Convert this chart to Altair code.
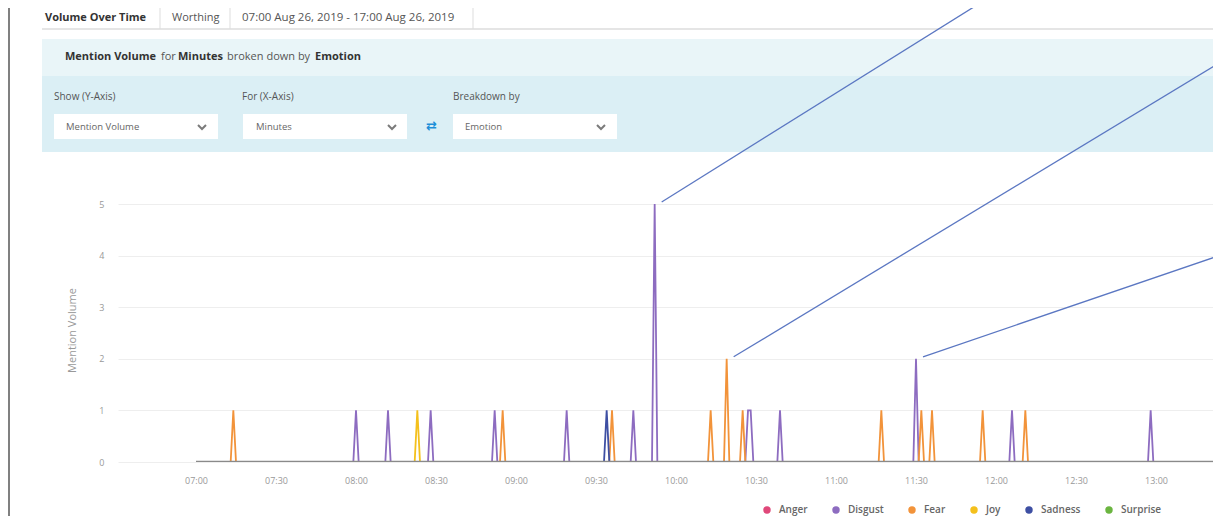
import altair as alt
import pandas as pd

FONT = "Open Sans"

# ---------------- data ----------------
emotions = ["Anger", "Disgust", "Fear", "Joy", "Sadness", "Surprise"]
emotion_colors = ["#e0487a", "#8d6cc0", "#f2933a", "#f4c01c", "#3e4fa3", "#6bb540"]

spike_times = ["07:14", "08:00", "08:12", "08:23", "08:28", "08:52", "08:55",
               "09:19", "09:34", "09:36", "09:44", "09:52", "10:13", "10:19",
               "10:25", "10:27", "10:28", "10:39", "11:17", "11:30", "11:32",
               "11:36", "11:55", "12:06", "12:11", "12:58"]
spike_emotions = ["Fear", "Disgust", "Disgust", "Joy", "Disgust", "Disgust", "Fear",
                  "Disgust", "Sadness", "Fear", "Disgust", "Disgust", "Fear", "Fear",
                  "Fear", "Disgust", "Disgust", "Disgust", "Fear", "Disgust", "Fear",
                  "Fear", "Fear", "Disgust", "Fear", "Disgust"]
spike_values = [1, 1, 1, 1, 1, 1, 1,
                1, 1, 1, 1, 5, 1, 2,
                1, 1, 1, 1, 1, 2, 1,
                1, 1, 1, 1, 1]

series_start = "07:00"
series_end = "17:00"

x_tick_labels = ["07:00", "07:30", "08:00", "08:30", "09:00", "09:30", "10:00",
                 "10:30", "11:00", "11:30", "12:00", "12:30", "13:00"]
y_ticks = [0, 1, 2, 3, 4, 5]

callout_times = ["09:52", "10:19", "11:30"]
callout_values = [5, 2, 2]


def to_min(s):
    h, m = s.split(":")
    return int(h) * 60 + int(m)


# ---------------- layout ----------------
PLOT_W, PLOT_H = 1095, 258
PAD = {"left": 110, "top": 196, "right": 0, "bottom": 54}
ORIGIN_X, ORIGIN_Y = 8 + PAD["left"], 8 + PAD["top"]   # page position of plot origin
PX_PER_MIN = 80 / 30
FIRST_OFFSET = 78                                      # px from plot left to 07:00
x_domain = [to_min(series_start) - FIRST_OFFSET / PX_PER_MIN,
            to_min(series_start) + (PLOT_W - FIRST_OFFSET) / PX_PER_MIN]


def px(x):
    return x - ORIGIN_X


def py(y):
    return y - ORIGIN_Y


# ---------------- tables ----------------
start_m, end_m = to_min(series_start), to_min(series_end)
lookup = {}
for t, e, v in zip(spike_times, spike_emotions, spike_values):
    lookup[(e, to_min(t))] = v
rows = []
for e in emotions:
    for m in range(start_m, end_m + 1):
        rows.append({"minute": m, "emotion": e, "value": lookup.get((e, m), 0)})
series_df = pd.DataFrame(rows)

one = alt.Data(values=[{"a": 1}])

color_scale = alt.Scale(domain=emotions, range=emotion_colors)
x_scale = alt.Scale(domain=x_domain, nice=False, zero=False)
y_scale = alt.Scale(domain=[0, 5], nice=False)

label_expr = ("(floor(datum.value/60) < 10 ? '0' : '') + floor(datum.value/60) + ':' + "
              "(datum.value % 60 < 10 ? '0' : '') + (datum.value % 60)")

X_AXIS = alt.Axis(values=[to_min(t) for t in x_tick_labels], labelExpr=label_expr,
                  title=None, grid=False, domain=False, ticks=False, tickSize=0,
                  labelPadding=14, labelFontSize=9, labelColor="#999999",
                  labelFont=FONT, orient="bottom")
Y_AXIS = alt.Axis(values=y_ticks, title="Mention Volume", grid=True,
                  gridColor="#eeeeee", domain=False, ticks=False, tickSize=0,
                  labelPadding=14, labelFontSize=9, labelColor="#999999",
                  labelFont=FONT, titleFont=FONT, titleFontSize=11,
                  titleFontWeight="normal", titleColor="#999999",
                  titleX=-46, titleY=126, titleAngle=270,
                  titleAlign="center", titleBaseline="middle", orient="left")

lines = alt.Chart(series_df).mark_line(clip=True, strokeWidth=1.8, interpolate="linear").encode(
    x=alt.X("minute:Q", scale=x_scale, axis=X_AXIS),
    y=alt.Y("value:Q", scale=y_scale, axis=Y_AXIS),
    color=alt.Color("emotion:N", scale=color_scale, legend=None),
    detail="emotion:N",
)

base_df = pd.DataFrame({"start": [start_m], "end": [end_m], "level": [0]})
baseline = alt.Chart(base_df).mark_rule(clip=True, color="#8a8a8a", strokeWidth=2.5).encode(
    x=alt.X("start:Q", scale=x_scale, axis=X_AXIS),
    x2="end:Q",
    y=alt.Y("level:Q", scale=y_scale, axis=Y_AXIS),
)

legend_df = pd.DataFrame({"emotion": emotions})
legend_layer = alt.Chart(legend_df).mark_circle(size=55, opacity=1).encode(
    x=alt.value(-3000), y=alt.value(-3000),
    color=alt.Color("emotion:N", scale=color_scale,
                    legend=alt.Legend(orient="none", legendX=px(762), legendY=py(505),
                                      direction="horizontal", title=None,
                                      symbolType="circle", symbolSize=55,
                                      symbolStrokeWidth=0, labelFont=FONT,
                                      labelFontSize=10, labelFontWeight=600,
                                      labelColor="#666666", columnPadding=23,
                                      labelOffset=7, padding=0)),
)

# callout lines (annotation pointing off-screen)
callout_ends = [(985, 0), (1221, 62), (1221, 255)]
callouts = []
for t, v, (ex, ey) in zip(callout_times, callout_values, callout_ends):
    cdf = pd.DataFrame({"minute": [to_min(t)], "value": [v]})
    callouts.append(
        alt.Chart(cdf).mark_rule(color="#5b77c2", strokeWidth=1.3, xOffset=7, yOffset=-2).encode(
            x=alt.X("minute:Q", scale=x_scale, axis=X_AXIS),
            y=alt.Y("value:Q", scale=y_scale, axis=Y_AXIS),
            x2=alt.value(px(ex)), y2=alt.value(py(ey)),
        )
    )


# ---------------- dashboard decorations ----------------
def rect(x1, x2, y1, y2, color):
    return alt.Chart(one).mark_rect(color=color).encode(
        x=alt.value(px(x1)), x2=alt.value(px(x2)), y=alt.value(py(y1)), y2=alt.value(py(y2)))


def line(x1, y1, x2, y2, color, width):
    return alt.Chart(one).mark_rule(color=color, strokeWidth=width).encode(
        x=alt.value(px(x1)), x2=alt.value(px(x2)), y=alt.value(py(y1)), y2=alt.value(py(y2)))


def label(txt, x, y, size=10, weight="normal", color="#555555", font=FONT):
    return alt.Chart(one).mark_text(text=txt, align="left", baseline="middle", fontSize=size,
                                    fontWeight=weight, color=color, font=font).encode(
        x=alt.value(px(x)), y=alt.value(py(y)))


def chevron(x, y):
    return alt.Chart(one).mark_point(shape="M-1,-0.5L0,0.5L1,-0.5", filled=False, size=64,
                                     strokeWidth=2, color="#444444").encode(
        x=alt.value(px(x)), y=alt.value(py(y)))


decor = [
    line(9, 8, 9, 526, "#808080", 2),
    # tabs
    line(42, 29, 1221, 29, "#dddddd", 1.5),
    line(160, 4, 160, 29, "#dddddd", 1),
    line(230, 4, 230, 29, "#dddddd", 1),
    line(473, 4, 473, 29, "#dddddd", 1),
    label("Volume Over Time", 45, 18, 11, "bold", "#333333"),
    label("Worthing", 172, 18, 11),
    label("07:00 Aug 26, 2019 - 17:00 Aug 26, 2019", 242, 18, 11.5),
    # panel
    rect(42, 1221, 39, 76, "#e9f5f8"),
    rect(42, 1221, 76, 152, "#dbeff5"),
    label("Mention Volume", 65, 57, 11, "bold", "#333333"),
    label("for", 161, 57, 11),
    label("Minutes", 178, 57, 11, "bold", "#333333"),
    label("broken down by", 227, 57, 11),
    label("Emotion", 315, 57, 11, "bold", "#333333"),
    label("Show (Y-Axis)", 54, 97, 10),
    label("For (X-Axis)", 242, 97, 10),
    label("Breakdown by", 453, 97, 10),
    rect(54, 218, 114, 139, "#ffffff"),
    rect(243, 407, 114, 139, "#ffffff"),
    rect(453, 617, 114, 139, "#ffffff"),
    label("Mention Volume", 66, 127, 9.5, "normal", "#666666"),
    label("Minutes", 256, 127, 9.5, "normal", "#666666"),
    label("Emotion", 465, 127, 9.5, "normal", "#666666"),
    chevron(202, 127),
    chevron(392, 127),
    chevron(601, 127),
    label("\u21c4", 426, 126, 13, "bold", "#1f8fd8", "DejaVu Sans"),
]

chart = alt.layer(lines, *decor, baseline, *callouts, legend_layer).resolve_scale(
    color="independent"
).resolve_legend(color="independent").properties(
    width=PLOT_W, height=PLOT_H,
    autosize=alt.AutoSizeParams(type="none"),
    padding=PAD,
    background="white",
).configure_view(stroke=None)

chart.save("out.html", embed_options={"renderer": "svg", "actions": False})
